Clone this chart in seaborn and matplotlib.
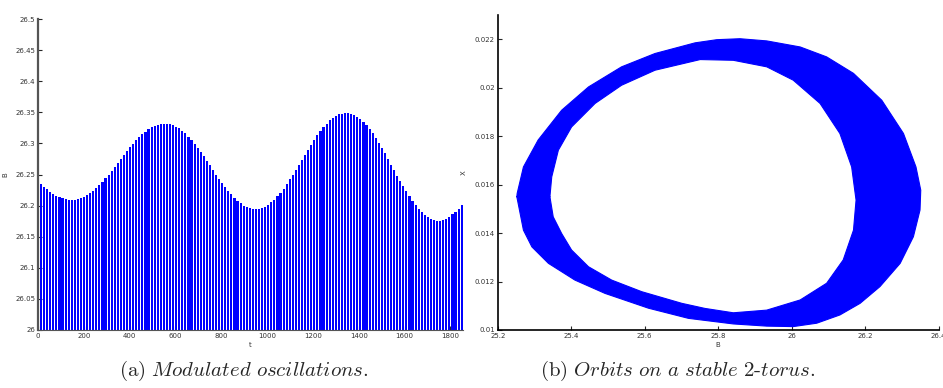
import numpy as np
import pandas as pd
import matplotlib
matplotlib.use("Agg")
import matplotlib.pyplot as plt
import seaborn as sns

# (a) peak value of B for each fast oscillation
period = 13.4
peak_B = [
    26.239, 26.234, 26.230, 26.226, 26.222, 26.219, 26.216, 26.214, 26.212, 26.210,
    26.209, 26.209, 26.209, 26.210, 26.212, 26.214, 26.217, 26.220, 26.224, 26.228,
    26.233, 26.238, 26.244, 26.250, 26.256, 26.262, 26.269, 26.275, 26.281, 26.287,
    26.294, 26.299, 26.305, 26.310, 26.315, 26.319, 26.323, 26.326, 26.328, 26.330,
    26.331, 26.332, 26.332, 26.331, 26.329, 26.327, 26.324, 26.320, 26.316, 26.311,
    26.305, 26.299, 26.293, 26.286, 26.279, 26.272, 26.265, 26.257, 26.250, 26.243,
    26.236, 26.230, 26.223, 26.218, 26.212, 26.208, 26.204, 26.200, 26.198, 26.196,
    26.194, 26.194, 26.194, 26.196, 26.198, 26.201, 26.205, 26.209, 26.215, 26.220,
    26.227, 26.234, 26.242, 26.249, 26.257, 26.266, 26.274, 26.282, 26.290, 26.298,
    26.306, 26.313, 26.320, 26.326, 26.332, 26.337, 26.341, 26.344, 26.347, 26.348,
    26.349, 26.349, 26.348, 26.346, 26.343, 26.339, 26.334, 26.329, 26.323, 26.316,
    26.309, 26.301, 26.293, 26.284, 26.275, 26.266, 26.257, 26.248, 26.239, 26.231,
    26.223, 26.215, 26.208, 26.201, 26.195, 26.190, 26.185, 26.182, 26.179, 26.177,
    26.176, 26.176, 26.177, 26.179, 26.182, 26.186, 26.190, 26.195, 26.201,
]
t_peak = np.arange(len(peak_B)) * period

# (b) outer and inner edge of the torus band (B, X)
outer_B = [25.252, 25.270, 25.293, 25.338, 25.410, 25.492, 25.610, 25.719,
           25.841, 25.932, 26.004, 26.068, 26.131, 26.186, 26.240, 26.295, 26.331,
           26.349, 26.351, 26.338, 26.304, 26.245, 26.168, 26.095, 26.023, 25.932,
           25.859, 25.796, 25.737, 25.628, 25.537, 25.447, 25.374, 25.310, 25.270,
           25.253]
outer_X = [0.01550, 0.01412, 0.01343, 0.01275, 0.01206, 0.01151, 0.01090, 0.01048,
           0.01025, 0.01016, 0.01014, 0.01028, 0.01062, 0.01110, 0.01179, 0.01275, 0.01385,
           0.01495, 0.01577, 0.01673, 0.01811, 0.01948, 0.02059, 0.02127, 0.02168, 0.02193,
           0.02202, 0.02198, 0.02185, 0.02141, 0.02086, 0.02003, 0.01907, 0.01784, 0.01673,
           0.01564]
inner_B = [25.342, 25.351, 25.374, 25.401, 25.447, 25.510, 25.592, 25.701, 25.764,
           25.841, 25.932, 26.023, 26.095, 26.140, 26.168, 26.175, 26.163, 26.131,
           26.077, 26.004, 25.932, 25.841, 25.751, 25.628, 25.537, 25.465, 25.401,
           25.365, 25.347]
inner_X = [0.01550, 0.01467, 0.01398, 0.01330, 0.01261, 0.01206, 0.01158, 0.01110, 0.01089,
           0.01071, 0.01082, 0.01124, 0.01193, 0.01289, 0.01412, 0.01536, 0.01673, 0.01811,
           0.01935, 0.02031, 0.02086, 0.02113, 0.02116, 0.02072, 0.02010, 0.01935, 0.01838,
           0.01742, 0.01632]

sns.set_style("ticks")
plt.rcParams["mathtext.fontset"] = "cm"

fig = plt.figure(figsize=(9.43, 3.88), dpi=100)
ax1 = fig.add_axes([0.0403, 0.1495, 0.4507, 0.8015])
ax2 = fig.add_axes([0.5278, 0.1495, 0.4677, 0.8119])

# left: modulated oscillations
df = pd.DataFrame({"t": t_peak, "B": peak_B})
sns.barplot(data=df, x="t", y="B", native_scale=True, color="blue", saturation=1,
            width=0.7, errorbar=None, linewidth=0, ax=ax1)
ax1.set_xlim(0, 1855)
ax1.set_ylim(26, 26.5)
ax1.set_xticks(np.arange(0, 1801, 200))
ax1.set_xticklabels([f"{v:g}" for v in np.arange(0, 1801, 200)])
yt = np.round(np.arange(26, 26.501, 0.05), 2)
ax1.set_yticks(yt)
ax1.set_yticklabels([f"{v:g}" for v in yt])
ax1.set_xlabel("t", fontsize=5, labelpad=2, color="#333333")
ax1.set_ylabel("B", fontsize=5, labelpad=5, color="#333333")

# right: torus band
ax2.fill(outer_B, outer_X, color="blue", lw=0)
ax2.fill(inner_B, inner_X, color="white", lw=0)
ring_o = pd.DataFrame({"B": outer_B + outer_B[:1], "X": outer_X + outer_X[:1]})
ring_i = pd.DataFrame({"B": inner_B + inner_B[:1], "X": inner_X + inner_X[:1]})
for ring in (ring_o, ring_i):
    sns.lineplot(data=ring, x="B", y="X", sort=False, estimator=None,
                 errorbar=None, color="blue", lw=0.8, ax=ax2)
ax2.set_xlim(25.2, 26.4)
ax2.set_ylim(0.01, 0.023)
xt = np.round(np.arange(25.2, 26.41, 0.2), 1)
ax2.set_xticks(xt)
ax2.set_xticklabels([f"{v:g}" for v in xt])
yt2 = np.round(np.arange(0.01, 0.0221, 0.002), 3)
ax2.set_yticks(yt2)
ax2.set_yticklabels([f"{v:g}" for v in yt2])
ax2.set_xlabel("B", fontsize=5, labelpad=2, color="#333333")
ax2.set_ylabel("X", fontsize=5, labelpad=6, color="#333333")

for ax, sc in ((ax1, "#555555"), (ax2, "black")):
    for s in ("top", "right"):
        ax.spines[s].set_visible(False)
    for s in ("left", "bottom"):
        ax.spines[s].set_color(sc)
    ax.tick_params(direction="in", length=3, width=0.8, labelsize=5,
                   labelcolor="#333333", pad=2)
ax1.spines["left"].set_linewidth(1.6)
ax2.spines["left"].set_linewidth(1.2)
ax2.spines["bottom"].set_linewidth(1.2)

fig.text(0.258, 0.03, r"$\mathrm{(a)}\ \mathit{Modulated\ oscillations.}$",
         ha="center", fontsize=15)
fig.text(0.719, 0.03, r"$\mathrm{(b)}\ \mathit{Orbits\ on\ a\ stable\ 2\text{-}torus.}$",
         ha="center", fontsize=15)

fig.savefig("out.png", dpi=100)
